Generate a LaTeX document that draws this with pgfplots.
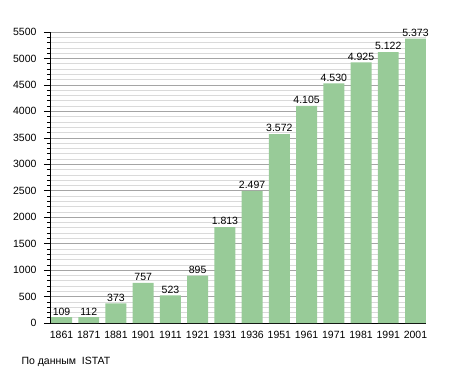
\documentclass[border=0pt]{standalone}
\usepackage{pgfplots}
\pgfplotsset{compat=1.18}
\usepackage{fontspec}
\setmainfont{Liberation Sans}
\definecolor{barg}{RGB}{152,203,152}
\definecolor{majg}{RGB}{165,165,165}
\definecolor{ming}{RGB}{218,218,218}
\begin{document}
\begin{tikzpicture}[x=1pt,y=1pt]
\path[use as bounding box] (0,0) rectangle (455,373);
\begin{axis}[
  at={(50pt,50pt)}, anchor=south west,
  scale only axis, width=376pt, height=291pt,
  xmin=-0.423, xmax=13.386, ymin=0, ymax=5500,
  axis lines=left, axis line style={-, black, line width=0.8pt},
  ytick={0,500,...,5500}, minor y tick num=4,
  xtick={0,...,13},
  xticklabels={1861,1871,1881,1901,1911,1921,1931,1936,1951,1961,1971,1981,1991,2001},
  x tick style={draw=none},
  tick align=outside, major tick length=6pt, minor tick length=3pt,
  y tick style={black, line width=0.6pt},
  ymajorgrids, yminorgrids,
  major grid style={majg, line width=0.6pt},
  minor grid style={ming, line width=0.6pt},
  tick label style={font=\fontsize{10.5}{12}\selectfont},
  /pgf/number format/assume math mode=true,
  /pgf/number format/1000 sep={},
  yticklabel style={xshift=-4pt},
  xticklabel style={yshift=1.5pt},
  ybar, bar width=0.77,
  nodes near coords,
  every node near coord/.append style={font=\fontsize{10.5}{12}\selectfont, /pgf/number format/1000 sep={.}, yshift=-1.5pt},
]
\addplot[fill=barg, draw=none] coordinates {
(0,109) (1,112) (2,373) (3,757) (4,523) (5,895) (6,1813) (7,2497) (8,3572) (9,4105) (10,4530) (11,4925) (12,5122) (13,5373)};
\end{axis}
\node[anchor=west, font=\fontsize{10.5}{12}\selectfont] at (18,11) {По данным\ \ ISTAT};
\end{tikzpicture}
\end{document}
